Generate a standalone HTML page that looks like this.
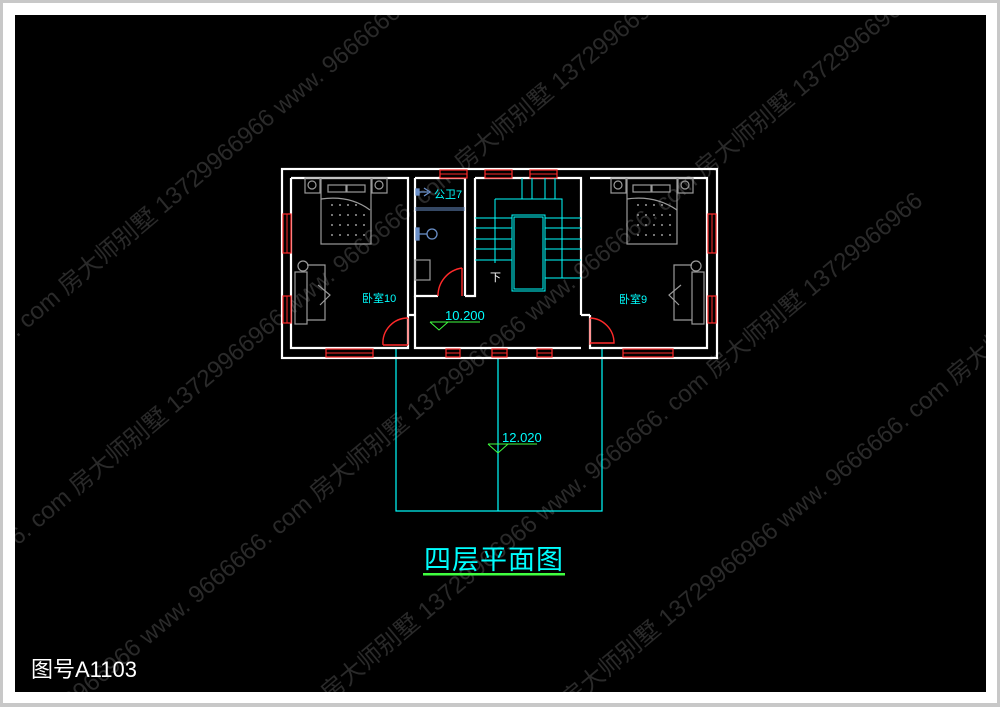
<!DOCTYPE html>
<html><head><meta charset="utf-8"><style>
html,body{margin:0;padding:0;background:#c8c8c8;overflow:hidden;width:1000px;height:707px}
svg{display:block}
</style></head><body>
<svg width="1000" height="707" viewBox="0 0 1000 707" xmlns="http://www.w3.org/2000/svg" font-family="'Liberation Sans','Noto Sans CJK SC',sans-serif">
<rect x="0" y="0" width="1000" height="707" fill="#c8c8c8"/>
<rect x="3" y="3" width="994" height="700" fill="#fff"/>
<rect x="15" y="15" width="971" height="677" fill="#000"/>
<clipPath id="c"><rect x="15" y="15" width="971" height="677"/></clipPath>
<g clip-path="url(#c)" fill="#2a2a2a" font-size="24">
<g transform="rotate(-40 500 350)">
<text x="-300" y="30">房大师别墅  13729966966    www. 9666666. com    房大师别墅  13729966966    www. 9666666. com    房大师别墅  13729966966</text>
<text x="-420" y="190">房大师别墅  13729966966    www. 9666666. com    房大师别墅  13729966966    www. 9666666. com    房大师别墅  13729966966</text>
<text x="-240" y="350">房大师别墅  13729966966    www. 9666666. com    房大师别墅  13729966966    www. 9666666. com    房大师别墅  13729966966</text>
<text x="-360" y="510">房大师别墅  13729966966    www. 9666666. com    房大师别墅  13729966966    www. 9666666. com    房大师别墅  13729966966</text>
<text x="-180" y="670">房大师别墅  13729966966    www. 9666666. com    房大师别墅  13729966966    www. 9666666. com    房大师别墅  13729966966</text>
</g>
</g>
<g stroke="#00ffff" fill="none" stroke-width="1.2">
<rect x="396" y="358" width="206" height="153"/>
<line x1="498" y1="348" x2="498" y2="511"/>
<line x1="396" y1="348" x2="396" y2="358"/>
<line x1="602" y1="348" x2="602" y2="358"/>
</g>
<text x="502" y="442" fill="#00ffff" font-size="13">12.020</text>
<path d="M488 444 L537 444 M488 444 L498 453 L508 444" stroke="#40ff40" fill="none"/>
<g stroke="#fff" stroke-width="2.2" fill="none">
<rect x="282" y="169" width="435" height="189"/>
<path d="M291 178 H408 V315"/>
<path d="M415 178 H465 V296 M415 178 V296 H438"/>
<path d="M475 178 H581 V315 M475 178 V296 H465"/>
<path d="M590 178 H707 V348 H590 V315"/>
<path d="M291 178 V348 H408 V315"/>
<path d="M415 296 V348 H581"/>
<path d="M408 315 H415 M581 315 H590"/>
</g>
<path d="M415 208 H465 M415 210 H465" stroke="#6a8fc8"/>
<g fill="#000" stroke="#ff2a2a" stroke-width="1.2">
<rect x="440" y="170" width="27" height="8"/>
<rect x="485" y="170" width="27" height="8"/>
<rect x="530" y="170" width="27" height="8"/>
<rect x="283" y="214" width="8" height="39"/>
<rect x="283" y="296" width="8" height="27"/>
<rect x="708" y="214" width="8" height="39"/>
<rect x="708" y="296" width="8" height="27"/>
<rect x="326" y="349" width="47" height="8"/>
<rect x="446" y="349" width="14" height="8"/>
<rect x="492" y="349" width="15" height="8"/>
<rect x="537" y="349" width="15" height="8"/>
<rect x="623" y="349" width="50" height="8"/>
</g>
<g stroke="#ff2a2a" stroke-width="1">
<path d="M440 174 H467 M485 174 H512 M530 174 H557 M326 353 H373 M446 353 H460 M492 353 H507 M537 353 H552 M623 353 H673"/>
<path d="M287 214 V253 M287 296 V323 M712 214 V253 M712 296 V323"/>
</g>
<g stroke="#ff2a2a" fill="none" stroke-width="1.4">
<path d="M383 345 H408 M383 345 A25 25 0 0 1 408 318"/>
<path d="M462 296 V268 M462 268 A28 28 0 0 0 438 296"/>
<path d="M590 318 A25 25 0 0 1 614 343 H590"/>
</g>
<line x1="408" y1="318" x2="408" y2="345" stroke="#ff2a2a"/>
<line x1="590" y1="318" x2="590" y2="345" stroke="#ff2a2a"/>
<g stroke="#00ffff" fill="none" stroke-width="1">
<path d="M522 178 V199 M532 178 V199 M545 178 V199 M555 178 V199"/>
<rect x="512" y="215" width="33" height="76"/>
<rect x="514" y="217" width="29" height="72"/>
<path d="M495 199 H562 V278 M495 199 V263"/>
<path d="M475 218 H512 M475 228 H512 M475 239 H512 M475 249 H512 M475 260 H512"/>
<path d="M545 218 H581 M545 228 H581 M545 239 H581 M545 249 H581 M545 260 H581 M545 278 H581"/>
</g>
<text x="490" y="281" fill="#fff" font-size="11">下</text>
<g stroke="#9a9a9a" fill="none" stroke-width="1.2">
<rect x="305" y="178" width="15" height="15"/><circle cx="312" cy="185" r="4"/>
<rect x="372" y="178" width="15" height="15"/><circle cx="379" cy="185" r="4"/>
<rect x="321" y="178" width="50" height="66"/>
<rect x="328" y="185" width="18" height="7"/><rect x="347" y="185" width="18" height="7"/>
<path d="M321 199 Q350 195 370 210"/>
<rect x="611" y="178" width="15" height="15"/><circle cx="618" cy="185" r="4"/>
<rect x="678" y="178" width="15" height="15"/><circle cx="685" cy="185" r="4"/>
<rect x="627" y="178" width="50" height="66"/>
<rect x="633" y="185" width="18" height="7"/><rect x="652" y="185" width="18" height="7"/>
<path d="M627 199 Q655 195 677 210"/>
<rect x="295" y="272" width="12" height="52"/><path d="M307 265 H325 V320 H307"/><circle cx="303" cy="266" r="5"/><path d="M318 285 L330 295 L320 305"/>
<rect x="692" y="272" width="12" height="52"/><path d="M692 265 H674 V320 H692"/><circle cx="696" cy="266" r="5"/><path d="M681 285 L669 295 L679 305"/>
<rect x="415" y="260" width="15" height="20"/>
</g>
<g fill="#9a9a9a">
<circle cx="332" cy="205" r="1"/><circle cx="340" cy="205" r="1"/><circle cx="348" cy="205" r="1"/><circle cx="356" cy="205" r="1"/>
<circle cx="332" cy="215" r="1"/><circle cx="340" cy="215" r="1"/><circle cx="348" cy="215" r="1"/><circle cx="356" cy="215" r="1"/><circle cx="364" cy="215" r="1"/>
<circle cx="332" cy="225" r="1"/><circle cx="340" cy="225" r="1"/><circle cx="348" cy="225" r="1"/><circle cx="356" cy="225" r="1"/><circle cx="364" cy="225" r="1"/>
<circle cx="332" cy="235" r="1"/><circle cx="340" cy="235" r="1"/><circle cx="348" cy="235" r="1"/><circle cx="356" cy="235" r="1"/><circle cx="364" cy="235" r="1"/>
<circle cx="638" cy="205" r="1"/><circle cx="646" cy="205" r="1"/><circle cx="654" cy="205" r="1"/><circle cx="662" cy="205" r="1"/>
<circle cx="638" cy="215" r="1"/><circle cx="646" cy="215" r="1"/><circle cx="654" cy="215" r="1"/><circle cx="662" cy="215" r="1"/><circle cx="670" cy="215" r="1"/>
<circle cx="638" cy="225" r="1"/><circle cx="646" cy="225" r="1"/><circle cx="654" cy="225" r="1"/><circle cx="662" cy="225" r="1"/><circle cx="670" cy="225" r="1"/>
<circle cx="638" cy="235" r="1"/><circle cx="646" cy="235" r="1"/><circle cx="654" cy="235" r="1"/><circle cx="662" cy="235" r="1"/><circle cx="670" cy="235" r="1"/>
</g>
<g stroke="#6a8fc8" fill="none" stroke-width="1.3">
<rect x="416" y="228" width="3" height="12" fill="#6a8fc8"/><circle cx="432" cy="234" r="5"/><path d="M419 234 H427"/>
<rect x="416" y="189" width="3" height="6" fill="#6a8fc8"/><path d="M419 192 H428 M424 188 L430 192 L424 196"/>
</g>
<text x="434" y="198" fill="#00ffff" font-size="11">公卫7</text>
<text x="362" y="302" fill="#00ffff" font-size="11">卧室10</text>
<text x="619" y="303" fill="#00ffff" font-size="11">卧室9</text>
<text x="445" y="320" fill="#00ffff" font-size="13">10.200</text>
<path d="M430 322 H480 M430 322 L439 330 L448 322" stroke="#40ff40" fill="none"/>
<text x="424" y="569" fill="#00ffff" font-size="27" font-family="'Noto Sans CJK SC',sans-serif" letter-spacing="1">四层平面图</text>
<rect x="423" y="573" width="142" height="2.5" fill="#40ff40"/>
<text x="31" y="677" fill="#fff" font-size="22">图号A1103</text>
</svg>
</body></html>
